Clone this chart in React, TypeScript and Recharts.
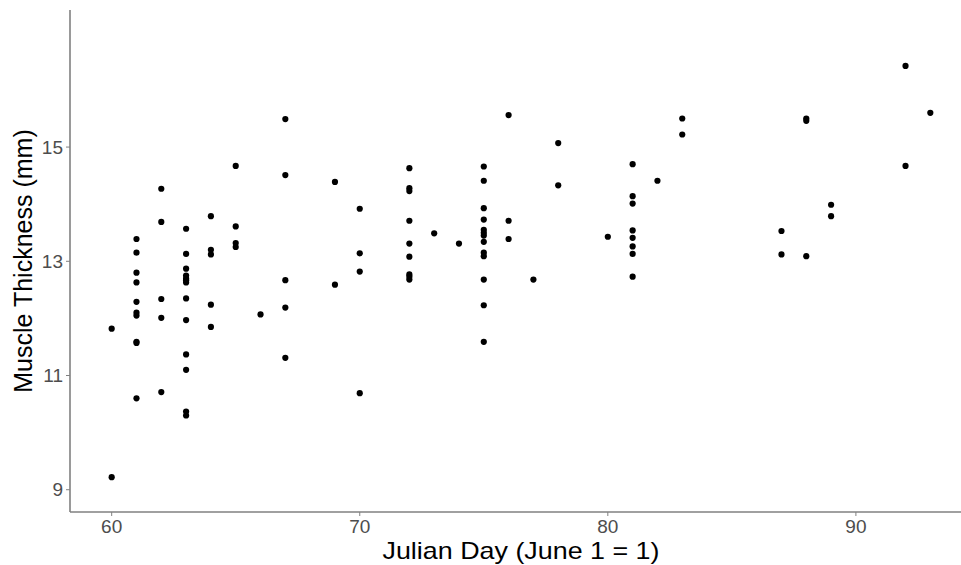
import React from "react";
import { ScatterChart, Scatter, XAxis, YAxis, Label } from "recharts";

// Julian day of each measurement
const julianDay: number[] = [
  60, 60,
  61, 61, 61, 61, 61, 61, 61, 61, 61, 61,
  62, 62, 62, 62, 62,
  63, 63, 63, 63, 63, 63, 63, 63, 63, 63, 63, 63, 63,
  64, 64, 64, 64, 64,
  65, 65, 65, 65,
  66,
  67, 67, 67, 67, 67,
  69, 69,
  70, 70, 70, 70,
  72, 72, 72, 72, 72, 72, 72, 72, 72,
  73,
  74,
  75, 75, 75, 75, 75, 75, 75, 75, 75, 75, 75, 75, 75,
  76, 76, 76,
  77,
  78, 78,
  80,
  81, 81, 81, 81, 81, 81, 81, 81,
  82,
  83, 83,
  87, 87,
  88, 88, 88,
  89, 89,
  92, 92,
  93,
];

// Muscle thickness (mm) for each measurement
const muscleThickness: number[] = [
  11.82, 9.22,
  13.39, 13.15, 12.80, 12.63, 12.29, 12.10, 12.05, 11.59, 11.57, 10.60,
  14.27, 13.69, 12.34, 12.01, 10.71,
  13.57, 13.13, 12.87, 12.75, 12.70, 12.67, 12.63, 12.35, 11.97, 11.37, 11.10, 10.37, 10.30,
  13.79, 13.20, 13.12, 12.24, 11.85,
  14.67, 13.61, 13.32, 13.25,
  12.07,
  15.49, 14.51, 12.67, 12.19, 11.31,
  14.39, 12.59,
  13.92, 13.14, 12.82, 10.69,
  14.63, 14.28, 14.23, 13.71, 13.31, 13.08, 12.77, 12.73, 12.68,
  13.49,
  13.31,
  14.66, 14.41, 13.93, 13.73, 13.55, 13.50, 13.45, 13.34, 13.15, 13.09, 12.68, 12.23, 11.59,
  15.56, 13.71, 13.39,
  12.68,
  15.07, 14.33,
  13.43,
  14.70, 14.14, 14.01, 13.54, 13.41, 13.26, 13.13, 12.73,
  14.41,
  15.50, 15.22,
  13.53, 13.12,
  15.50, 15.46, 13.09,
  13.99, 13.79,
  16.42, 14.67,
  15.60,
];

const xTicks: number[] = [60, 70, 80, 90];
const yTicks: number[] = [9, 11, 13, 15];
const xDomain: [number, number] = [58.32, 94.68];
const yDomain: [number, number] = [8.61, 17.4];

const xTitle = "Julian Day (June 1 = 1)";
const yTitle = "Muscle Thickness (mm)";

const data = julianDay.map((d, i) => ({ day: d, thickness: muscleThickness[i] }));

const FONT = "'Liberation Sans', Arial, sans-serif";
const tickStyle = { fontSize: 19, fill: "#4d4d4d", fontFamily: FONT };
const axisLine = { stroke: "#808080", strokeWidth: 1.6 };

const Dot = (props: any) => {
  const { cx, cy } = props;
  if (cx == null || cy == null) return null;
  return <circle cx={cx} cy={cy} r={3.1} fill="#000000" />;
};

export default function App() {
  return (
    <div
      style={{
        position: "absolute",
        left: 0,
        top: 0,
        width: 961,
        height: 565,
        overflow: "hidden",
        background: "#ffffff",
      }}
    >
      <ScatterChart
        width={1000}
        height={565}
        margin={{ top: 10, right: 28, left: 0, bottom: 0 }}
      >
        <XAxis
          type="number"
          dataKey="day"
          domain={xDomain}
          ticks={xTicks}
          allowDataOverflow
          height={53}
          tickSize={4}
          tickMargin={4}
          tick={tickStyle}
          axisLine={axisLine}
          tickLine={{ stroke: "#808080", strokeWidth: 1 }}
        >
          <Label
            content={(p: any) => {
              const vb = p.viewBox || {};
              const cx = (vb.x ?? 70) + (vb.width ?? 902) / 2;
              return (
                <text
                  x={cx}
                  y={559}
                  textAnchor="middle"
                  fontSize={24}
                  fontFamily={FONT}
                  fill="#000000"
                  textLength={277}
                  lengthAdjust="spacingAndGlyphs"
                >
                  {xTitle}
                </text>
              );
            }}
          />
        </XAxis>
        <YAxis
          type="number"
          dataKey="thickness"
          domain={yDomain}
          ticks={yTicks}
          allowDataOverflow
          width={70}
          tickSize={4}
          tickMargin={3}
          tick={tickStyle}
          axisLine={axisLine}
          tickLine={{ stroke: "#808080", strokeWidth: 1 }}
        >
          <Label
            content={(p: any) => {
              const vb = p.viewBox || {};
              const cy = (vb.y ?? 10) + (vb.height ?? 502) / 2;
              return (
                <text
                  x={32}
                  y={cy}
                  textAnchor="middle"
                  fontSize={25}
                  fontFamily={FONT}
                  fill="#000000"
                  transform={`rotate(-90 32 ${cy})`}
                >
                  {yTitle}
                </text>
              );
            }}
          />
        </YAxis>
        <Scatter data={data} shape={Dot} isAnimationActive={false} />
      </ScatterChart>
    </div>
  );
}
